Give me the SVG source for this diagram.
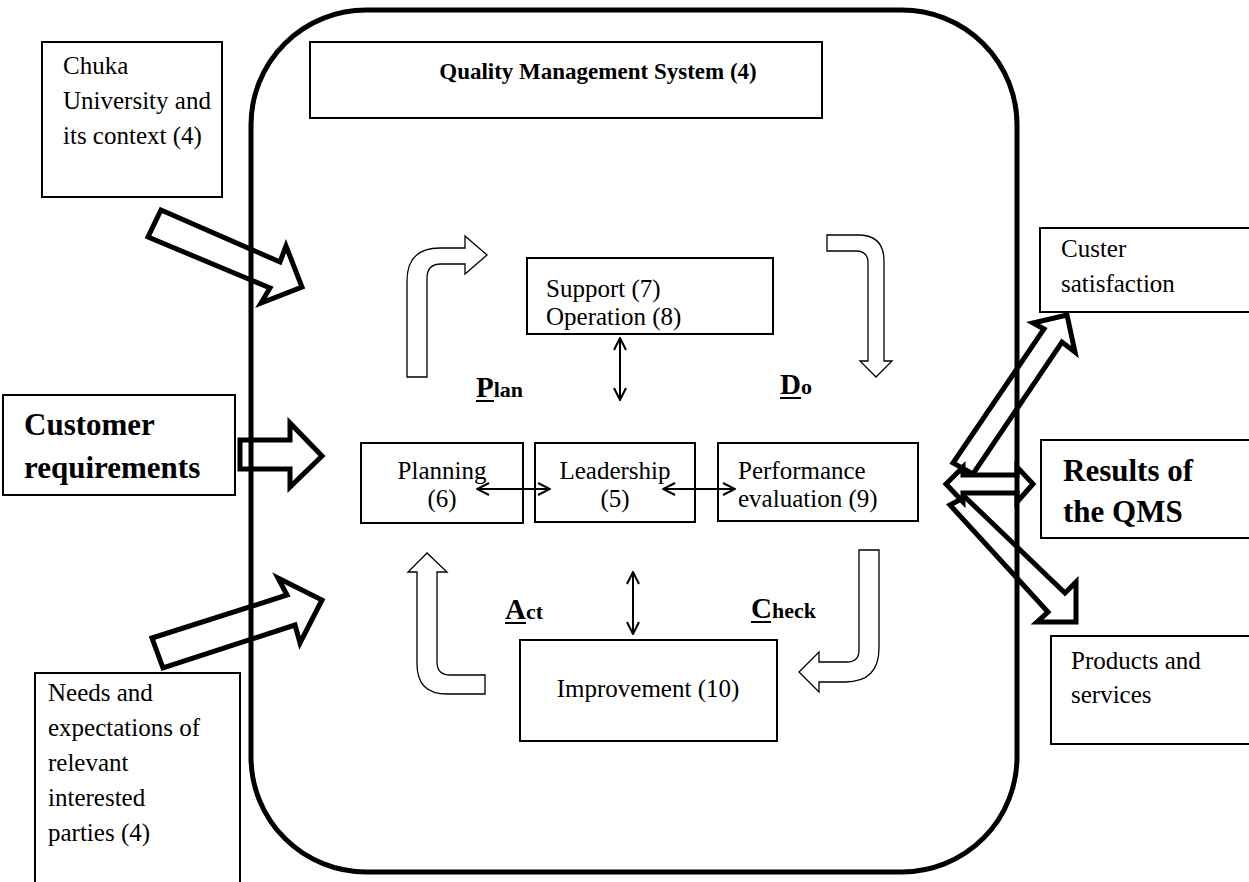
<svg xmlns="http://www.w3.org/2000/svg" width="1249" height="882" viewBox="0 0 1249 882">
<defs>
<style>
.box{fill:#fff;stroke:#000;stroke-width:2}
.t{font-family:'Liberation Serif',Tinos,'Times New Roman','DejaVu Serif',serif;font-size:25px;fill:#000}
.tb{font-family:'Liberation Serif',Tinos,'Times New Roman','DejaVu Serif',serif;font-weight:bold;fill:#000}
.blk{fill:#fff;stroke:#000;stroke-width:5;stroke-linejoin:miter}
.thin{fill:#fff;stroke:#000;stroke-width:1.3}
.dbl{fill:none;stroke:#000;stroke-width:2;marker-start:url(#v);marker-end:url(#v)}
.ul{stroke:#000;stroke-width:2}
</style>
<marker id="v" viewBox="0 0 14 14" refX="13" refY="7" markerWidth="14" markerHeight="14" markerUnits="userSpaceOnUse" orient="auto-start-reverse">
<path d="M1,1 L13,7 L1,13" fill="none" stroke="#000" stroke-width="2"/>
</marker>
</defs>
<rect x="0" y="0" width="1249" height="882" fill="#fff"/>

<g id="block-arrows">
<polygon class="blk" points="161,210 280,262 286,246 302,287 261,303 270,288 148,237"/>
<polygon class="blk" points="240,440 290,440 290,423 322,456 290,487 290,469 240,469"/>
<polygon class="blk" points="152,638 287,595 278,578 322,600 300,643 295,625 163,668"/>
<polygon class="blk" points="953,463 1044,329 1033,323 1067,315 1075,352 1062,342 973,474"/>
<polygon class="blk" points="965,497 1065,593 1076,582 1076,622 1037,622 1048,612 950,505"/>
<polygon class="blk" points="963,475 1017,475 1017,467 1033,484 1017,502 1017,493 963,493 963,502 946,484 963,467"/>
</g>

<g id="qms-boundary">
<rect x="251" y="10" width="766" height="862" rx="115" ry="115" fill="none" stroke="#000" stroke-width="5"/>
</g>

<g id="qms-title">
<rect class="box" x="310" y="42" width="512" height="76"/>
<text class="tb" x="598" y="79" font-size="23" text-anchor="middle">Quality Management System (4)</text>
</g>

<g id="context">
<rect class="box" x="42" y="42" width="180" height="155"/>
<text class="t" x="63" y="74">Chuka</text>
<text class="t" x="63" y="109">University and</text>
<text class="t" x="63" y="144">its context (4)</text>
</g>

<g id="customer-requirements">
<rect class="box" x="3" y="395" width="232" height="100"/>
<text class="tb" x="24" y="435" font-size="31">Customer</text>
<text class="tb" x="24" y="478" font-size="31">requirements</text>
</g>

<g id="needs">
<rect class="box" x="35" y="673" width="205" height="215"/>
<text class="t" x="48" y="701">Needs and</text>
<text class="t" x="48" y="736">expectations of</text>
<text class="t" x="48" y="771">relevant</text>
<text class="t" x="48" y="806">interested</text>
<text class="t" x="48" y="841">parties (4)</text>
</g>

<g id="support-operation">
<rect class="box" x="527" y="258" width="246" height="76"/>
<text class="t" x="546" y="297">Support (7)</text>
<text class="t" x="546" y="325">Operation (8)</text>
</g>

<g id="planning">
<rect class="box" x="361" y="443" width="162" height="80"/>
<text class="t" x="442" y="479" text-anchor="middle">Planning</text>
<text class="t" x="442" y="507" text-anchor="middle">(6)</text>
</g>

<g id="leadership">
<rect class="box" x="535" y="443" width="160" height="79"/>
<text class="t" x="615" y="479" text-anchor="middle">Leadership</text>
<text class="t" x="615" y="507" text-anchor="middle">(5)</text>
</g>

<g id="performance">
<rect class="box" x="718" y="443" width="200" height="78"/>
<text class="t" x="738" y="479">Performance</text>
<text class="t" x="738" y="507">evaluation (9)</text>
</g>

<g id="improvement">
<rect class="box" x="520" y="640" width="257" height="101"/>
<text class="t" x="648" y="697" text-anchor="middle">Improvement (10)</text>
</g>

<g id="custer-satisfaction">
<rect class="box" x="1040" y="228" width="215" height="84"/>
<text class="t" x="1061" y="257">Custer</text>
<text class="t" x="1061" y="292">satisfaction</text>
</g>

<g id="results">
<rect class="box" x="1041" y="440" width="215" height="98"/>
<text class="tb" x="1063" y="481" font-size="31">Results of</text>
<text class="tb" x="1063" y="522" font-size="31">the QMS</text>
</g>

<g id="products">
<rect class="box" x="1051" y="636" width="205" height="108"/>
<text class="t" x="1071" y="669">Products and</text>
<text class="t" x="1071" y="703">services</text>
</g>

<g id="connectors">
<path class="thin" d="M407,377 L407,281 Q407,248 440,248 L465,248 L465,236 L487,255 L465,274 L465,264 L441,264 Q427,264 427,278 L427,377 Z"/>
<path class="thin" d="M827,235 L858,235 Q884,235 884,261 L884,361 L892,361 L876,377 L860,361 L868,361 L868,263 Q868,251 856,251 L827,251 Z"/>
<path class="thin" d="M859,550 L879,550 L879,648 Q879,682 845,682 L819,682 L819,692 L799,672 L819,652 L819,662 L847,662 Q859,662 859,650 Z"/>
<path class="thin" d="M417,572 L408,572 L427,553 L447,572 L437,572 L437,662 Q437,675 450,675 L485,675 L485,694 L447,694 Q417,694 417,664 Z"/>
<line class="dbl" x1="620" y1="338" x2="620" y2="400"/>
<line class="dbl" x1="633" y1="572" x2="633" y2="634"/>
<line class="dbl" x1="477" y1="489" x2="550" y2="489"/>
<line class="dbl" x1="663" y1="489" x2="735" y2="489"/>
</g>

<g id="pdca-labels">
<text class="tb" x="476" y="397"><tspan font-size="29">P</tspan><tspan font-size="22">lan</tspan></text>
<line class="ul" x1="476" y1="401" x2="494" y2="401"/>
<text class="tb" x="780" y="394"><tspan font-size="29">D</tspan><tspan font-size="22">o</tspan></text>
<line class="ul" x1="780" y1="398" x2="801" y2="398"/>
<text class="tb" x="505" y="619"><tspan font-size="29">A</tspan><tspan font-size="22">ct</tspan></text>
<line class="ul" x1="505" y1="623" x2="526" y2="623"/>
<text class="tb" x="751" y="618"><tspan font-size="29">C</tspan><tspan font-size="22">heck</tspan></text>
<line class="ul" x1="751" y1="622" x2="771" y2="622"/>
</g>
</svg>
